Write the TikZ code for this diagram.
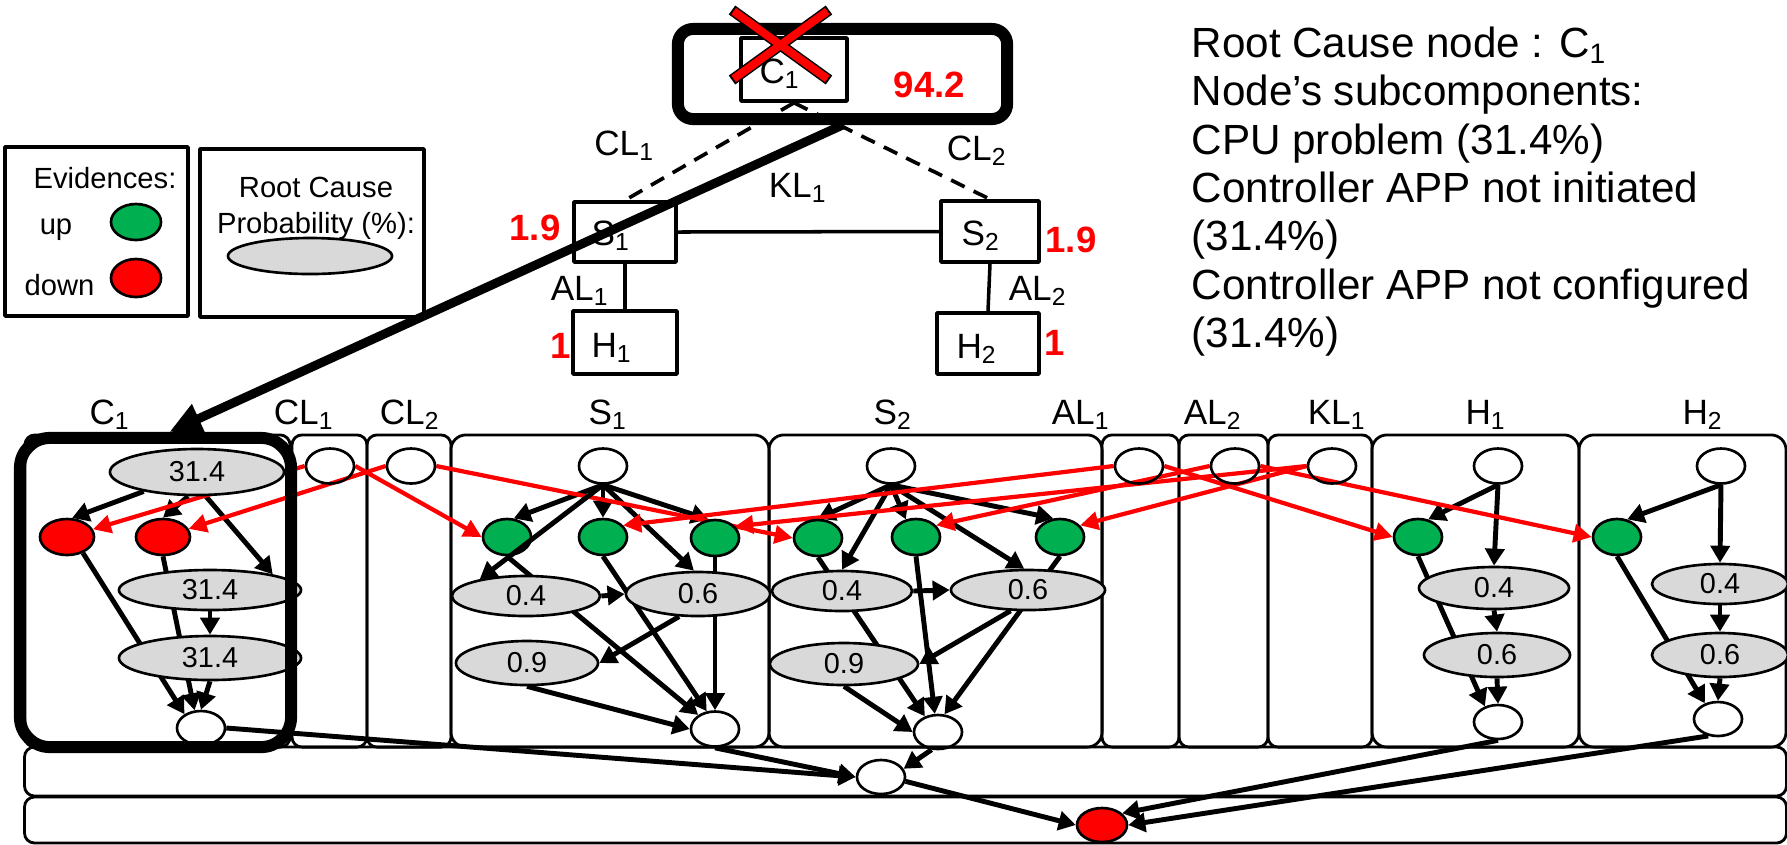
\documentclass[tikz,border=0pt]{standalone}
\usepackage{fontspec}
\setmainfont{Liberation Sans}
\usetikzlibrary{shapes.geometric, arrows.meta}

\definecolor{upgreen}{RGB}{0,176,80}
\definecolor{downred}{RGB}{255,0,0}
\definecolor{probgray}{RGB}{217,217,217}

\pgfdeclarelayer{back}
\pgfdeclarelayer{edges}
\pgfdeclarelayer{front}
\pgfsetlayers{back,edges,main,front}

\tikzset{
  lbl/.style={inner sep=0pt, font=\fontsize{10}{12}\selectfont},
  legtext/.style={inner sep=0pt, font=\fontsize{8.3}{10}\selectfont},
  risk/.style={inner sep=0pt, text=downred, font=\fontsize{10.4}{12}\selectfont\bfseries},
  devbox/.style={draw, line width=1pt, inner sep=0pt},
  legbox/.style={draw, line width=1pt, inner sep=0pt},
  linkline/.style={line width=1pt},
  ctrlline/.style={line width=1.05pt, dash pattern=on 0.15cm off 0.1cm},
  panel/.style={draw, line width=0.8pt, rounded corners=0.1cm, inner sep=0pt, minimum height=3.12cm},
  band/.style={draw, line width=0.8pt, rounded corners=0.1cm, inner sep=0pt, minimum width=17.61cm},
  wnode/.style={ellipse, draw, line width=0.75pt, inner sep=0pt, minimum width=0.48cm, minimum height=0.35cm},
  upnode/.style={wnode, fill=upgreen, minimum height=0.36cm},
  downnode/.style={wnode, fill=downred, minimum height=0.36cm},
  prob/.style={ellipse, draw, fill=probgray, line width=0.75pt, inner sep=0pt, font=\fontsize{8.2}{10}\selectfont},
  dep/.style={line width=1.4pt, -{Triangle[length=0.17cm, width=0.19cm]}},
  evid/.style={line width=1.2pt, downred, -{Triangle[length=0.18cm, width=0.18cm]}},
  framebox/.style={draw, line width=0.12cm, inner sep=0pt},
  bigarrow/.style={line width=0.09cm, -{Triangle[length=0.32cm, width=0.3cm]}}
}

\begin{document}
\begin{tikzpicture}[x=0.01cm, y=-0.01cm, line join=round]
\useasboundingbox (0,0) rectangle (1787,844);

% Legend: evidences
\node[legbox, minimum width=1.83cm, minimum height=1.69cm] (legev) at (96.5,231.5) {};
\node[legtext, anchor=base] (legevt) at (105,188) {Evidences:};
\node[legtext, anchor=base] (legup) at (56,234) {up};
\node[upnode, minimum width=0.5cm] (legupn) at (136,222) {};
\node[legtext, anchor=base] (legdown) at (59.5,295) {down};
\node[downnode, minimum width=0.5cm, minimum height=0.38cm] (legdownn) at (136,278) {};

% Legend: root cause probability
\node[legbox, minimum width=2.24cm, minimum height=1.68cm] (legrc) at (312,233) {};
\node[legtext, anchor=base] (legrct) at (316,197) {Root Cause};
\node[legtext, anchor=base] (legrcp) at (316,233) {Probability (\%):};
\node[prob, minimum width=1.64cm, minimum height=0.36cm] (legrcn) at (310,256) {};

% Network topology
\node[devbox, minimum width=1.06cm, minimum height=0.63cm] (c1box) at (794,69.5) {};
\node[lbl, anchor=base] (c1txt) at (780,83) {C\textsubscript{1}};
\node[framebox, rounded corners=0.15cm, minimum width=3.29cm, minimum height=0.90cm] (rootbox) at (842.5,74) {};
\node[risk, anchor=base] (c1risk) at (929.5,97) {94.2};

\node[devbox, minimum width=1.02cm, minimum height=0.60cm] (s1box) at (625,232) {};
\node[lbl, anchor=base] (s1txt) at (611,245) {S\textsubscript{1}};
\node[devbox, minimum width=0.98cm, minimum height=0.61cm] (s2box) at (990,231.5) {};
\node[lbl, anchor=base] (s2txt) at (981,245) {S\textsubscript{2}};
\node[devbox, minimum width=1.04cm, minimum height=0.63cm] (h1box) at (625,342.5) {};
\node[lbl, anchor=base] (h1txt) at (612,357) {H\textsubscript{1}};
\node[devbox, minimum width=1.02cm, minimum height=0.61cm] (h2box) at (988,343.5) {};
\node[lbl, anchor=base] (h2txt) at (977,358) {H\textsubscript{2}};

\node[risk, anchor=base] (s1risk) at (535,240) {1.9};
\node[risk, anchor=base] (s2risk) at (1071,252) {1.9};
\node[risk, anchor=base] (h1risk) at (561,358) {1};
\node[risk, anchor=base] (h2risk) at (1055,355) {1};

% Links between devices
\draw[ctrlline] (c1box.south) -- (s1box.north);
\draw[ctrlline] (c1box.south) -- (s2box.north);
\draw[linkline] (s1box.east) -- (s2box.west);
\draw[linkline] (s1box.south) -- (h1box.north);
\draw[linkline] (s2box.south) -- (h2box.north);

\node[lbl, anchor=base] (tcl1) at (624.5,155) {CL\textsubscript{1}};
\node[lbl, anchor=base] (tcl2) at (977,160) {CL\textsubscript{2}};
\node[lbl, anchor=base] (tkl1) at (798,197) {KL\textsubscript{1}};
\node[lbl, anchor=base] (tal1) at (580,300) {AL\textsubscript{1}};
\node[lbl, anchor=base] (tal2) at (1038,300) {AL\textsubscript{2}};

% Right-hand description
\node[anchor=north west, align=left, inner sep=0pt, font=\fontsize{12}{13.75}\selectfont] (info) at (1191,26)
  {Root Cause node : C\textsubscript{1}\\Node’s subcomponents:\\CPU problem (31.4\%)\\Controller APP not initiated\\(31.4\%)\\Controller APP not configured\\(31.4\%)};

% Component panels
\begin{pgfonlayer}{back}
\node[panel, minimum width=2.65cm] (pc1) at (157.5,591) {};
\node[panel, minimum width=0.75cm] (pcl1) at (329.5,591) {};
\node[panel, minimum width=0.84cm] (pcl2) at (409,591) {};
\node[panel, rounded corners=0.15cm, minimum width=3.18cm] (ps1) at (610,591) {};
\node[panel, rounded corners=0.15cm, minimum width=3.33cm] (ps2) at (935.5,591) {};
\node[panel, minimum width=0.77cm] (pal1) at (1140.5,591) {};
\node[panel, minimum width=0.89cm] (pal2) at (1223.5,591) {};
\node[panel, minimum width=1.04cm] (pkl1) at (1320,591) {};
\node[panel, rounded corners=0.15cm, minimum width=2.07cm] (ph1) at (1475.5,591) {};
\node[panel, rounded corners=0.15cm, minimum width=2.07cm] (ph2) at (1682.5,591) {};
\node[band, minimum height=0.49cm] (band1) at (905.5,771.5) {};
\node[band, minimum height=0.46cm] (band2) at (905.5,820) {};
\end{pgfonlayer}

% Panel titles
\node[lbl, anchor=base] (lc1) at (110,424) {C\textsubscript{1}};
\node[lbl, anchor=base] (lcl1) at (304,424) {CL\textsubscript{1}};
\node[lbl, anchor=base] (lcl2) at (410,424) {CL\textsubscript{2}};
\node[lbl, anchor=base] (ls1) at (608,424) {S\textsubscript{1}};
\node[lbl, anchor=base] (ls2) at (893,424) {S\textsubscript{2}};
\node[lbl, anchor=base] (lal1) at (1081,424) {AL\textsubscript{1}};
\node[lbl, anchor=base] (lal2) at (1213,424) {AL\textsubscript{2}};
\node[lbl, anchor=base] (lkl1) at (1337,424) {KL\textsubscript{1}};
\node[lbl, anchor=base] (lh1) at (1486,424) {H\textsubscript{1}};
\node[lbl, anchor=base] (lh2) at (1703,424) {H\textsubscript{2}};

% C1 network
\node[prob, minimum width=1.74cm, minimum height=0.46cm] (c1p) at (197,472) {31.4};
\node[downnode, minimum width=0.54cm] (c1ra) at (67,537) {};
\node[downnode, minimum width=0.54cm] (c1rb) at (163,537) {};
\node[prob, minimum width=1.82cm, minimum height=0.40cm] (c1m) at (210,590) {31.4};
\node[prob, minimum width=1.82cm, minimum height=0.44cm] (c1l) at (210,658) {31.4};
\node[wnode, minimum height=0.34cm] (c1o) at (201,728) {};

% Control links
\node[wnode] (cl1w) at (330,466) {};
\node[wnode] (cl2w) at (411,466) {};

% S1 network
\node[wnode] (s1t) at (603,466) {};
\node[upnode] (s1ga) at (507,537) {};
\node[upnode] (s1gb) at (603,537) {};
\node[upnode] (s1gc) at (715,538) {};
\node[prob, minimum width=1.48cm, minimum height=0.40cm] (s1a) at (526,596) {0.4};
\node[prob, minimum width=1.44cm, minimum height=0.44cm] (s1b) at (698,594) {0.6};
\node[prob, minimum width=1.42cm, minimum height=0.44cm] (s1c) at (527,663) {0.9};
\node[wnode] (s1o) at (715,729) {};

% S2 network
\node[wnode] (s2t) at (891,466) {};
\node[upnode] (s2ga) at (818,538) {};
\node[upnode] (s2gb) at (916,537) {};
\node[upnode] (s2gc) at (1060,537) {};
\node[prob, minimum width=1.40cm, minimum height=0.40cm] (s2a) at (842,591) {0.4};
\node[prob, minimum width=1.54cm, minimum height=0.40cm] (s2b) at (1028,590) {0.6};
\node[prob, minimum width=1.48cm, minimum height=0.42cm] (s2c) at (844,664) {0.9};
\node[wnode, minimum height=0.34cm] (s2o) at (938,732) {};

% Access and switch links
\node[wnode] (al1w) at (1139,466) {};
\node[wnode] (al2w) at (1235,466) {};
\node[wnode] (kl1w) at (1332,466) {};

% H1 and H2 networks
\node[wnode] (h1t) at (1498,466) {};
\node[upnode] (h1g) at (1418,537) {};
\node[prob, minimum width=1.50cm, minimum height=0.42cm] (h1a) at (1494,588) {0.4};
\node[prob, minimum width=1.46cm, minimum height=0.44cm] (h1b) at (1497,655) {0.6};
\node[wnode, minimum height=0.34cm] (h1o) at (1498,722) {};
\node[wnode] (h2t) at (1721,466) {};
\node[upnode] (h2g) at (1617,537) {};
\node[prob, minimum width=1.36cm, minimum height=0.40cm] (h2a) at (1720,584) {0.4};
\node[prob, minimum width=1.36cm, minimum height=0.44cm] (h2b) at (1720,655) {0.6};
\node[wnode, minimum height=0.34cm] (h2o) at (1718,719) {};

% Aggregation rows
\node[wnode, minimum height=0.34cm] (b1) at (881,777) {};
\node[downnode, minimum width=0.50cm, minimum height=0.34cm] (bred) at (1102,825) {};

\begin{pgfonlayer}{edges}
% C1 dependencies
\draw[dep] (c1p.200) -- (c1ra.75);
\draw[dep] (c1p.250) -- (c1rb.north);
\draw[dep] (c1p.-70) -- (c1m.14);
\draw[dep] (c1ra.-45) -- (c1o.140);
\draw[dep] (c1rb.south) -- (c1o.110);
\draw[dep] (c1m.south) -- (c1l.north);
\draw[dep] (c1l.south) -- (c1o.north);
% S1 dependencies
\draw[dep] (s1t.south) -- (s1ga.70);
\draw[dep] (s1t.south) -- (s1gb.north);
\draw[dep] (s1t.south) -- (s1gc.110);
\draw[dep] (s1t.south) -- (s1b.100);
\draw[dep] (s1ga.south) -- (s1o.140);
\draw[dep] (s1gb.south) -- (s1o.115);
\draw[dep] (s1gc.south) -- (s1o.north);
\draw[dep] (s1a.east) -- (s1b.west);
\draw[dep] (s1b.230) -- (s1c.east);
\draw[dep] (s1c.south) -- (s1o.west);
% S2 dependencies
\draw[dep] (s2t.south) -- (s2ga.north);
\draw[dep] (s2t.south) -- (s2gb.120);
\draw[dep] (s2t.south) -- (s2gc.110);
\draw[dep] (s2t.south) -- (s2a.north);
\draw[dep] (s2t.south) -- (s2b.100);
\draw[dep] (s2ga.south) -- (s2o.130);
\draw[dep] (s2gb.south) -- (s2o.100);
\draw[dep] (s2gc.south) -- (s2o.70);
\draw[dep] (s2a.east) -- (s2b.west);
\draw[dep] (s2b.230) -- (s2c.east);
\draw[dep] (s2c.south) -- (s2o.west);
% H1 and H2 dependencies
\draw[dep] (h1t.south) -- (h1g.60);
\draw[dep] (h1t.south) -- (h1a.north);
\draw[dep] (h1g.south) -- (h1o.130);
\draw[dep] (h1a.south) -- (h1b.north);
\draw[dep] (h1b.south) -- (h1o.north);
\draw[dep] (h2t.south) -- (h2g.60);
\draw[dep] (h2t.south) -- (h2a.north);
\draw[dep] (h2g.south) -- (h2o.130);
\draw[dep] (h2a.south) -- (h2b.north);
\draw[dep] (h2b.south) -- (h2o.north);
% Aggregation
\draw[dep] (c1o.east) -- (b1.west);
\draw[dep] (s1o.south) -- (b1.west);
\draw[dep] (s2o.250) -- (b1.20);
\draw[dep] (b1.-10) -- (bred.west);
\draw[dep] (h1o.south) -- (bred.30);
\draw[dep] (h2o.240) -- (bred.east);
% Link evidences
\draw[evid] (cl1w.west) -- (c1ra);
\draw[evid] (cl2w.west) -- (c1rb);
\draw[evid] (cl1w.east) -- (s1ga.west);
\draw[evid] (cl2w.east) -- (s2ga.west);
\draw[evid] (al1w.west) -- (s1gb.30);
\draw[evid] (kl1w.west) -- (s1gc.30);
\draw[evid] (al2w.west) -- (s2gb.30);
\draw[evid] (kl1w.west) -- (s2gc.30);
\draw[evid] (al1w.east) -- (h1g.west);
\draw[evid] (al2w.east) -- (h2g.west);
\end{pgfonlayer}

\begin{pgfonlayer}{front}
\draw[dep] (s1t.south) -- (s1a.160);
% Highlight of the root cause
\node[framebox, rounded corners=0.3cm, minimum width=2.71cm, minimum height=3.09cm] (c1frame) at (155.5,592.5) {};
\draw[bigarrow] (rootbox.south) -- ([xshift=0.14cm]c1frame.north);
% Cross on the failed controller
\draw[line width=0.11cm] (732,10) -- (829,80);
\draw[line width=0.11cm] (732,80) -- (829,10);
\draw[line width=0.08cm, downred, shorten <=0.02cm, shorten >=0.02cm] (732,10) -- (829,80);
\draw[line width=0.08cm, downred, shorten <=0.02cm, shorten >=0.02cm] (732,80) -- (829,10);
\end{pgfonlayer}
\end{tikzpicture}
\end{document}
